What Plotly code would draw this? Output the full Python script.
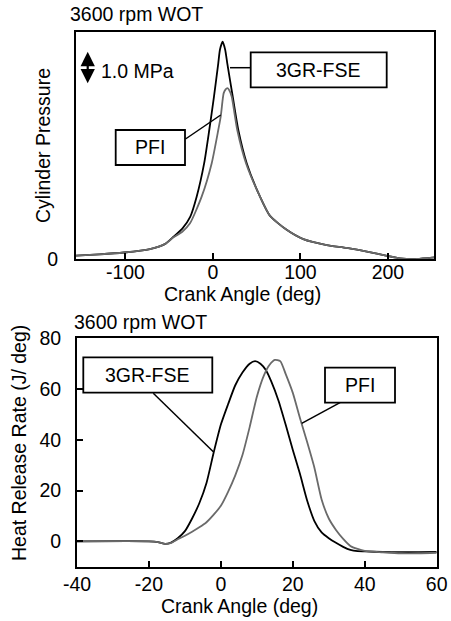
import plotly.graph_objects as go

W, H = 451, 621

# ---------------- data: top panel (cylinder pressure, MPa) ----------------
crank_top_fse = [-156.5, -130, -101.7, -72, -55, -45, -35, -26, -18.6, -10, -4.2, 1.2, 6.1, 8,
                 11.1, 14, 16.4, 22.6, 29, 38.6, 53.8, 65, 84.3, 103.3, 130, 153, 176, 199, 214, 233, 253]
p_fse = [0.11, 0.15, 0.21, 0.32, 0.48, 0.72, 0.98, 1.36, 2.01, 3.09, 4.16, 5.24, 6.31, 6.75,
         7.01, 6.75, 6.31, 5.24, 4.16, 3.09, 2.01, 1.4, 0.94, 0.64, 0.45, 0.36, 0.24, 0.10, 0.02, 0.0, 0.05]

crank_top_pfi = [-156.5, -130, -101.7, -72, -55, -45, -35, -26.2, -12.9, -1.4, 6.1, 8.9, 11.1, 12.3,
                 14.5, 16.4, 18.5, 21.4, 27.8, 37.8, 53.8, 65, 84.3, 103.3, 130, 153, 176, 199, 214, 233, 253]
p_pfi = [0.11, 0.15, 0.21, 0.32, 0.48, 0.70, 0.88, 1.15, 2.01, 3.09, 4.16, 4.59, 5.13, 5.35,
         5.47, 5.51, 5.45, 5.24, 4.16, 3.09, 2.01, 1.4, 0.94, 0.64, 0.45, 0.36, 0.24, 0.10, 0.02, 0.0, 0.05]

# ---------------- data: bottom panel (heat release rate, J/deg) ----------------
crank_bot_fse = [-40, -20, -17.5, -15.5, -14, -12, -10, -8, -6, -4, -2, 0, 2, 4, 6, 8, 9.5, 11, 12.5,
                 14, 16, 18, 20, 22, 24, 26, 28, 30, 32, 34, 36, 38, 40, 45, 50, 55, 60]
hrr_fse = [0, 0, -0.3, -1.0, -0.6, 1.2, 4, 9, 15, 23, 35, 46, 54, 61.5, 66.5, 70, 71, 70, 67.5,
           63, 55.5, 46, 36, 26.5, 16, 8, 3.5, 1.2, -0.6, -2.2, -3.4, -3.9, -4.0, -4.2, -4.3, -4.3, -4.2]

crank_bot_pfi = [-40, -20, -17.5, -15.5, -14, -12, -10, -8, -6, -4, -2, 0, 2, 4, 6, 8, 10, 12, 13.5,
                 15, 16.5, 18, 20, 22, 24, 26, 28, 30, 32, 34, 36, 38, 40, 45, 50, 55, 60]
hrr_pfi = [0, 0, -0.3, -1.0, -0.7, 0.8, 2.2, 3.8, 5.5, 7.5, 10.5, 14, 19.5, 26, 34, 45, 57, 65.5, 69.5,
           71.5, 71, 66, 58.5, 48.5, 39, 29, 16.5, 9, 4.5, 1, -1.8, -3.0, -3.8, -4.3, -4.7, -4.7, -4.5]

top_xticks = [-100, 0, 100, 200]
top_xlabels = ["-100", "0", "100", "200"]
bot_xticks = [-40, -20, 0, 20, 40, 60]
bot_xlabels = ["-40", "-20", "0", "20", "40", "60"]
bot_yticks = [0, 20, 40, 60, 80]

series_names = ["3GR-FSE", "PFI"]
title_text = "3600 rpm WOT"

FONT = "Liberation Sans, Arial, sans-serif"
FS = 19.5
BLACK = "#000000"
GRAY = "#6a6a6a"


def px(x):
    return x / W


def py(y):
    return 1 - y / H


fig = go.Figure()
fig.add_trace(go.Scatter(x=crank_top_fse, y=p_fse, mode="lines", name=series_names[0],
                         line=dict(color=BLACK, width=1.8, shape="spline", smoothing=0.6),
                         xaxis="x", yaxis="y", showlegend=False))
fig.add_trace(go.Scatter(x=crank_top_pfi, y=p_pfi, mode="lines", name=series_names[1],
                         line=dict(color=GRAY, width=1.8, shape="spline", smoothing=0.6),
                         xaxis="x", yaxis="y", showlegend=False))
fig.add_trace(go.Scatter(x=crank_bot_fse, y=hrr_fse, mode="lines", name=series_names[0],
                         line=dict(color=BLACK, width=1.8, shape="spline", smoothing=0.6),
                         xaxis="x2", yaxis="y2", showlegend=False))
fig.add_trace(go.Scatter(x=crank_bot_pfi, y=hrr_pfi, mode="lines", name=series_names[1],
                         line=dict(color=GRAY, width=1.8, shape="spline", smoothing=0.6),
                         xaxis="x2", yaxis="y2", showlegend=False))

axis_common = dict(showline=True, mirror=True, linecolor=BLACK, linewidth=2, showgrid=False,
                   zeroline=False, automargin=False,
                   tickfont=dict(family=FONT, size=FS, color=BLACK))

fig.update_layout(
    width=W, height=H, margin=dict(l=0, r=0, t=0, b=0, autoexpand=False),
    paper_bgcolor="white", plot_bgcolor="white",
    font=dict(family=FONT, size=FS, color=BLACK),
    xaxis=dict(domain=[px(76), px(434.3)], range=[-156.5, 253.0], anchor="y",
               tickvals=top_xticks, ticktext=top_xlabels, ticks="inside", ticklen=6, tickwidth=1.5,
               tickcolor=BLACK, ticklabelstandoff=-5, **axis_common),
    yaxis=dict(domain=[py(259), py(31.7)], range=[0, 7.33], anchor="x",
               tickvals=[0], ticktext=["0"], ticks="", ticklabelstandoff=12, **axis_common),
    xaxis2=dict(domain=[px(77), px(436.7)], range=[-40, 60], anchor="y2",
                tickvals=bot_xticks, ticktext=bot_xlabels, ticks="inside", ticklen=6, tickwidth=1.5,
                tickcolor=BLACK, ticklabelstandoff=-1, **axis_common),
    yaxis2=dict(domain=[py(566.7), py(338.3)], range=[-10, 80], anchor="x2",
                tickvals=bot_yticks, ticks="inside", ticklen=6, tickwidth=1.5, tickcolor=BLACK,
                ticklabelstandoff=10, **axis_common),
)

ann = []
# titles
ann.append(dict(text=title_text, x=px(68), y=py(14), xref="paper", yref="paper",
                xanchor="left", yanchor="middle", showarrow=False))
ann.append(dict(text=title_text, x=px(72), y=py(322), xref="paper", yref="paper",
                xanchor="left", yanchor="middle", showarrow=False))
# axis titles
ann.append(dict(text="Crank Angle (deg)", x=px(242), y=py(294), xref="paper", yref="paper",
                xanchor="center", yanchor="middle", showarrow=False))
ann.append(dict(text="Crank Angle (deg)", x=px(239), y=py(606), xref="paper", yref="paper",
                xanchor="center", yanchor="middle", showarrow=False))
ann.append(dict(text="Cylinder Pressure", x=px(43), y=py(146), xref="paper", yref="paper",
                xanchor="center", yanchor="middle", textangle=-90, showarrow=False))
ann.append(dict(text="Heat Release Rate (J/ deg)", x=px(19), y=py(443), xref="paper", yref="paper",
                xanchor="center", yanchor="middle", textangle=-90, showarrow=False))
# 1.0 MPa scale arrow
ann.append(dict(x=-143.1, y=6.68, ax=-143.1, ay=5.62, xref="x", yref="y", axref="x", ayref="y",
                text="", showarrow=True, arrowhead=2, arrowside="end+start", arrowsize=1.3,
                arrowwidth=2.2, arrowcolor=BLACK))
ann.append(dict(text="1.0 MPa", x=px(99), y=py(71.5), xref="paper", yref="paper",
                xanchor="left", yanchor="middle", showarrow=False))
# labels in boxes
boxes = [
    (series_names[0], 250.7, 52.3, 386.7, 87.3),
    (series_names[1], 115.7, 130, 185, 165),
    (series_names[0], 83.3, 357.3, 212.3, 392.7),
    (series_names[1], 325, 367.7, 395, 402.7),
]
shapes = []
for name, x0, y0, x1, y1 in boxes:
    shapes.append(dict(type="rect", xref="paper", yref="paper", x0=px(x0), x1=px(x1),
                       y0=py(y1), y1=py(y0), line=dict(color=BLACK, width=1.8),
                       fillcolor="white", layer="above"))
    ann.append(dict(text=name, x=px((x0 + x1) / 2), y=py((y0 + y1) / 2), xref="paper", yref="paper",
                    xanchor="center", yanchor="middle", showarrow=False))
leaders = [
    (230, 67.7, 250.7, 67.7),
    (185.5, 139, 220.7, 115),
    (153.3, 393.3, 213.3, 451.7),
    (340, 402.7, 301.7, 423.3),
]
for x0, y0, x1, y1 in leaders:
    shapes.append(dict(type="line", xref="paper", yref="paper", x0=px(x0), y0=py(y0),
                       x1=px(x1), y1=py(y1), line=dict(color=BLACK, width=1.5), layer="above"))

fig.update_layout(annotations=ann, shapes=shapes)
# remove the default 8px page margin so the 451x621 figure fills the window exactly
fig.write_html("out.html", config={"displayModeBar": False},
               post_script="document.body.style.margin='0';document.body.style.overflow='hidden';")
